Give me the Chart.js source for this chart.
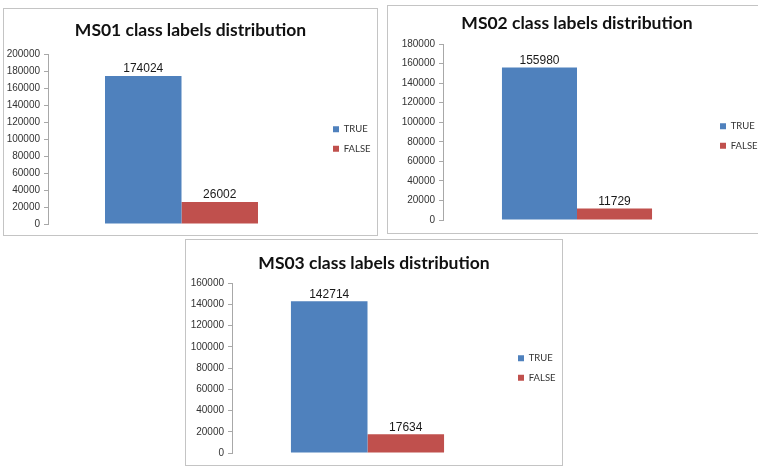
<!DOCTYPE html>
<html>
<head>
<meta charset="utf-8">
<script src="https://cdn.jsdelivr.net/npm/chart.js@4"></script>
<style>
  body { margin: 0; background: #fff; width: 758px; height: 473px; position: relative; overflow: hidden; }
  .panel { position: absolute; border: 1px solid #c4c4c4; box-sizing: border-box; background: #fff; }
  .panel canvas { position: absolute; left: 0; top: 0; }
</style>
</head>
<body>
<div class="panel" style="left:3px; top:8px; width:375px; height:228px;"><canvas id="c0" width="373" height="226"></canvas></div>
<div class="panel" style="left:387px; top:5px; width:380px; height:229px;"><canvas id="c1" width="378" height="227"></canvas></div>
<div class="panel" style="left:185px; top:239px; width:378px; height:227px;"><canvas id="c2" width="376" height="225"></canvas></div>
<script>
// data
const datasetNames = ['MS01', 'MS02', 'MS03'];
const seriesNames = ['TRUE', 'FALSE'];
const trueCounts = [174024, 155980, 142714];
const falseCounts = [26002, 11729, 17634];
const yMax = [200000, 180000, 160000];
const yStep = 20000;

const seriesColors = ['#4f81bd', '#c0504d'];

// per panel layout tweaks
const axisWidth = [44, 55, 46];
const padTop = [7, 3, 9];
const padBottom = [3, 5, 4];
const titleGap = [13, 10, 9];
const legendWidth = [62, 55, 59];
const legendShift = [8, -1, 5];
const legendDrop = [0, 4, 0];
const catPercent = [0.573, 0.56, 0.565];

// labels above each bar
const barValues = {
  id: 'barValues',
  afterDatasetsDraw(chart) {
    const ctx = chart.ctx;
    ctx.save();
    ctx.font = '12px "Liberation Sans", Arial, sans-serif';
    ctx.fillStyle = '#1a1a1a';
    ctx.textAlign = 'center';
    ctx.textBaseline = 'bottom';
    chart.data.datasets.forEach((ds, i) => {
      chart.getDatasetMeta(i).data.forEach((bar, j) => {
        ctx.fillText(String(ds.data[j]), bar.x, bar.y - 1);
      });
    });
    ctx.restore();
  }
};

// fixed legend width, legend centred on the plot area
const legendPlace = {
  id: 'legendPlace',
  beforeLayout(chart) {
    const lg = chart.legend;
    if (lg && !lg._fixed) {
      const fit = lg.fit.bind(lg);
      lg.fit = function () {
        fit();
        this.width = chart.options.plugins.legendPlace.width;
      };
      lg._fixed = true;
    }
  },
  afterLayout(chart) {
    const lg = chart.legend;
    const opts = chart.options.plugins.legendPlace;
    lg.left += opts.shift;
    lg.right += opts.shift;
    lg.top = chart.chartArea.top + opts.drop;
    lg.bottom = chart.chartArea.bottom + opts.drop;
    lg.height = lg.bottom - lg.top;
  }
};

function makeChart(i) {
  const ctx = document.getElementById('c' + i).getContext('2d');
  return new Chart(ctx, {
    type: 'bar',
    data: {
      labels: [''],
      datasets: [
        { label: seriesNames[0], data: [trueCounts[i]], backgroundColor: seriesColors[0] },
        { label: seriesNames[1], data: [falseCounts[i]], backgroundColor: seriesColors[1] },
      ],
    },
    options: {
      responsive: false,
      animation: false,
      events: [],
      datasets: {
        bar: { barPercentage: 1, categoryPercentage: catPercent[i] },
      },
      plugins: {
        title: {
          display: true,
          text: datasetNames[i] + ' class labels distribution',
          color: '#111',
          font: { family: 'Lato', size: 17.5, weight: 'bold' },
          padding: { top: 4, bottom: titleGap[i] },
        },
        legend: {
          display: true,
          position: 'right',
          align: 'center',
          labels: {
            boxWidth: 6,
            boxHeight: 6,
            padding: 10,
            color: '#333',
            font: { family: 'Lato', size: 9.5 },
          },
        },
        legendPlace: { width: legendWidth[i], shift: legendShift[i], drop: legendDrop[i] },
        tooltip: { enabled: false },
      },
      scales: {
        x: {
          grid: { display: false },
          ticks: { display: false },
          border: { display: false },
        },
        y: {
          min: 0,
          max: yMax[i],
          ticks: {
            stepSize: yStep,
            color: '#333',
            padding: 4,
            font: { family: '"Liberation Sans", Arial, sans-serif', size: 10 },
            callback: (v) => String(v),
          },
          grid: { drawOnChartArea: false, drawTicks: true, tickLength: 4, color: '#a8a8a8' },
          border: { display: true, color: '#a8a8a8' },
          afterFit(scale) { scale.width = axisWidth[i]; },
        },
      },
      layout: {
        padding: { left: 0, right: 0, top: padTop[i], bottom: padBottom[i] },
      },
    },
    plugins: [barValues, legendPlace],
  });
}

window.addEventListener('load', () => {
  datasetNames.forEach((name, i) => makeChart(i));
});
</script>
</body>
</html>
